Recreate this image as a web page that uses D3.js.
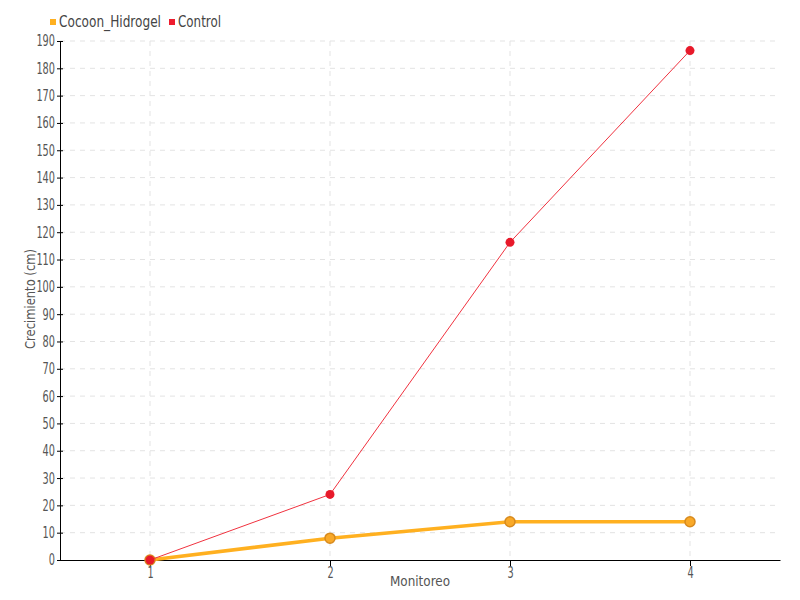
<!DOCTYPE html>
<html><head><meta charset="utf-8">
<script src="https://cdn.jsdelivr.net/npm/d3@7"></script>
<style>
body{margin:0;background:#fff;}
text{font-family:"DejaVu Sans Condensed","Liberation Sans Narrow",sans-serif;}
</style></head>
<body><svg id="c" width="800" height="600"></svg>
<script>
const categories = [1, 2, 3, 4];
const seriesNames = ["Cocoon_Hidrogel", "Control"];
const cocoon = [0, 8, 14, 14];
const control = [0, 24, 116.3, 186.5];
const yTicks = d3.range(0, 200, 10);

const svg = d3.select("#c");
const m = {l:60, r:20, t:41, b:40};
const W = 800, H = 600;
const x = d3.scaleLinear().domain([0.5, 4.5]).range([m.l, W - m.r]);
const y = d3.scaleLinear().domain([0, 190]).range([H - m.b, m.t]);

// grid
svg.append("g").selectAll("line").data(yTicks.filter(d=>d>0)).join("line")
  .attr("x1", m.l).attr("x2", W - m.r).attr("y1", d=>y(d)).attr("y2", d=>y(d))
  .attr("stroke", "#e3e3e3").attr("stroke-dasharray", "5,5");
svg.append("g").selectAll("line").data(categories).join("line")
  .attr("x1", d=>x(d)).attr("x2", d=>x(d)).attr("y1", m.t).attr("y2", H - m.b)
  .attr("stroke", "#e3e3e3").attr("stroke-dasharray", "5,5");

// axes
const ya = svg.append("g").attr("transform", `translate(${m.l},0)`)
  .call(d3.axisLeft(y).tickValues(yTicks).tickSize(3).tickSizeOuter(0).tickPadding(2));
ya.selectAll(".tick line").attr("x2", 3).attr("x1", -3);
const xa = svg.append("g").attr("transform", `translate(0,${H - m.b})`)
  .call(d3.axisBottom(x).tickValues(categories).tickFormat(d3.format("d")).tickSize(6).tickSizeOuter(0).tickPadding(1));
[ya, xa].forEach(a => {
  a.select(".domain").attr("stroke", "#000");
  a.selectAll(".tick line").attr("stroke", "#000");
  a.selectAll(".tick text").attr("fill", "#555").style("font-size", "15.5px")
   .style("font-family", '"DejaVu Sans Condensed",sans-serif')
   .attr("textLength", d => String(d).length * 6.2).attr("lengthAdjust", "spacingAndGlyphs");
});

// axis labels
svg.append("text").attr("x", 420).attr("y", 586).attr("text-anchor", "middle")
  .attr("fill", "#555").style("font-size", "14px")
  .attr("textLength", 60).attr("lengthAdjust", "spacingAndGlyphs").text("Monitoreo");
svg.append("text").attr("transform", "translate(35,299) rotate(-90)").attr("text-anchor", "middle")
  .attr("fill", "#555").style("font-size", "14px")
  .attr("textLength", 100).attr("lengthAdjust", "spacingAndGlyphs").text("Crecimiento (cm)");

const line = d3.line().x((d,i)=>x(categories[i])).y(d=>y(d));

// Cocoon
svg.append("path").datum(cocoon).attr("d", line).attr("fill", "none")
  .attr("stroke", "#FFB020").attr("stroke-width", 3.5);
svg.append("g").selectAll("circle").data(cocoon).join("circle")
  .attr("cx", (d,i)=>x(categories[i])).attr("cy", d=>y(d)).attr("r", 5)
  .attr("fill", "#F9A928").attr("stroke", "#D78A1E").attr("stroke-width", 1.5);

// Control
svg.append("path").datum(control).attr("d", line).attr("fill", "none")
  .attr("stroke", "#F0323F").attr("stroke-width", 1);
svg.append("g").selectAll("circle").data(control).join("circle")
  .attr("cx", (d,i)=>x(categories[i])).attr("cy", d=>y(d)).attr("r", 4.5)
  .attr("fill", "#E8192A");

// legend
const legendColors = ["#FFB020", "#EE1C2E"];
const lg = svg.append("g");
const lx = [50, 169];
const lw = [102, 43];
seriesNames.forEach((n, i) => {
  lg.append("rect").attr("x", lx[i]).attr("y", 19).attr("width", 6).attr("height", 6).attr("fill", legendColors[i]);
  lg.append("text").attr("x", lx[i] + 9).attr("y", 27).attr("fill", "#444").style("font-size", "15px")
    .attr("textLength", lw[i]).attr("lengthAdjust", "spacingAndGlyphs").text(n);
});
</script></body></html>
